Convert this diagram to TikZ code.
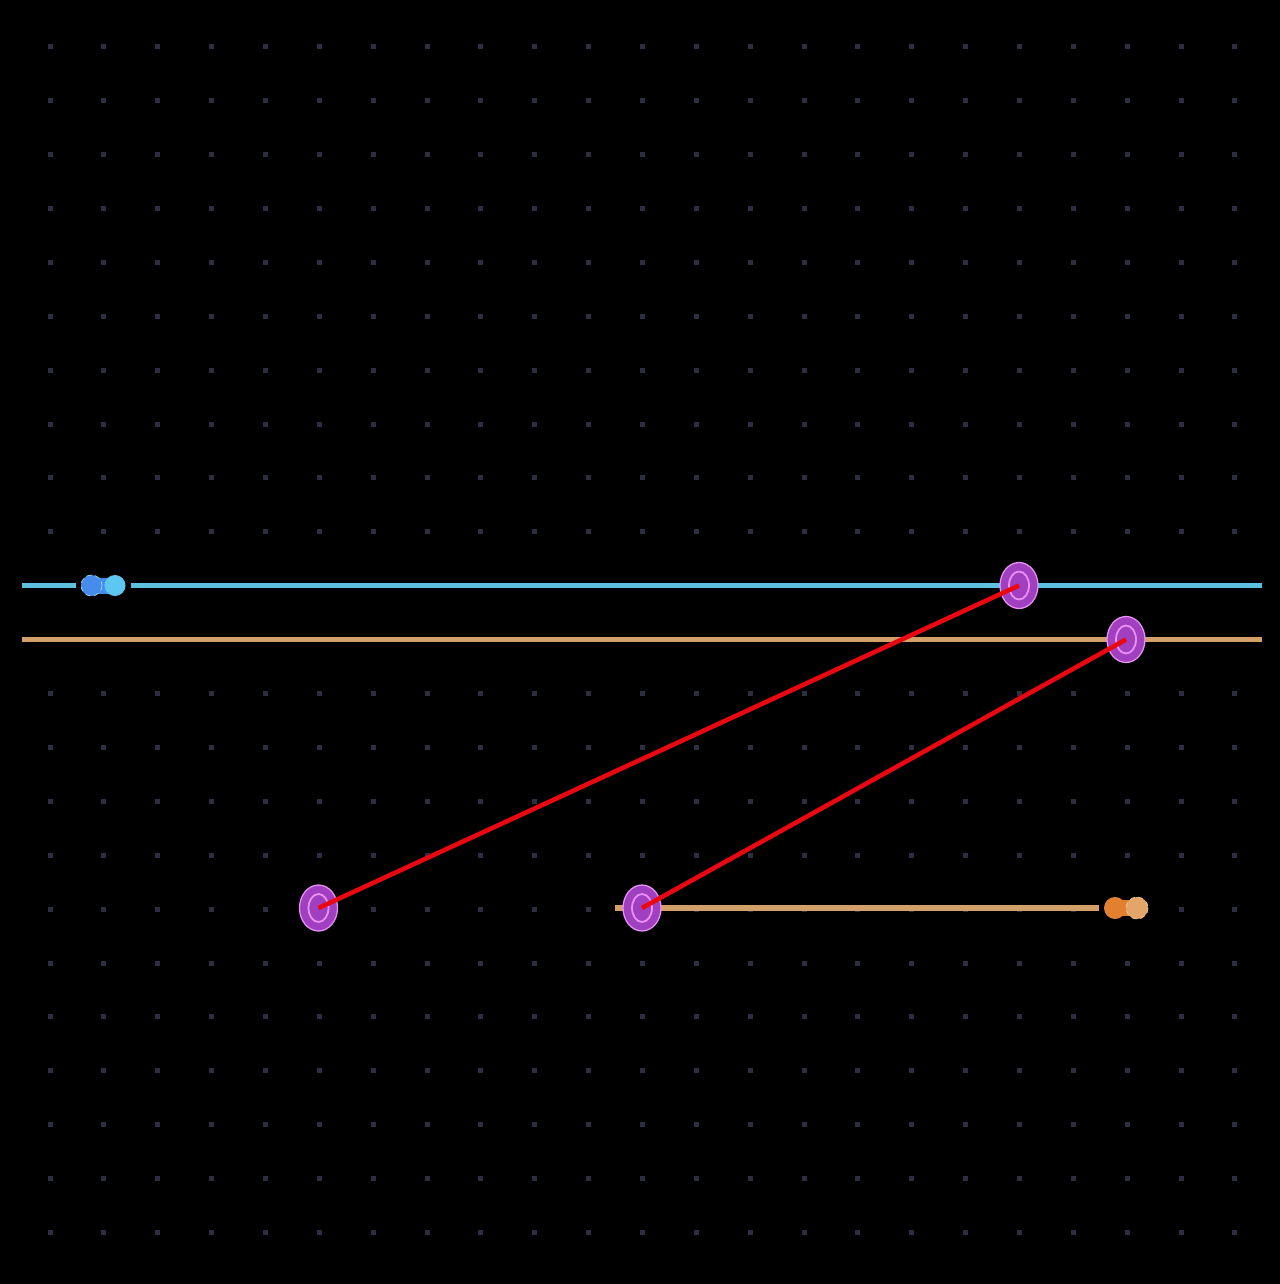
\documentclass[tikz,border=0pt]{standalone}
\usepackage{tikz}
\usetikzlibrary{calc}

\definecolor{bgdot}{RGB}{46,46,66}
\definecolor{cyanwire}{RGB}{92,192,222}
\definecolor{tanwire}{RGB}{212,160,106}
\definecolor{viafill}{RGB}{160,64,192}
\definecolor{viaedge}{RGB}{236,146,246}
\definecolor{redwire}{RGB}{234,8,16}
\definecolor{bluepadA}{RGB}{70,140,236}
\definecolor{bluepadB}{RGB}{92,200,242}
\definecolor{orangepadA}{RGB}{226,128,48}
\definecolor{orangepadB}{RGB}{228,166,104}

\begin{document}
\begin{tikzpicture}[x=0.02cm,y=-0.02cm]
    % Define the grid spacing and the wire width
    \def\dx{53.86}  % horizontal dot spacing
    \def\dy{53.9}   % vertical dot spacing
    \def\w{2.9pt}   % wire width
    \def\rx{19}     % via radii
    \def\ry{23}

    % Black background, fixes the page size
    \fill[black] (0,0) rectangle (1280,1284);
    \useasboundingbox (0,0) rectangle (1280,1284);

    % Grid dots
    \foreach \i in {0,...,22} {
        \foreach \j in {0,...,22} {
            \fill[bgdot] ({50+\dx*\i-2.5},{46.7+\dy*\j-2.5}) rectangle ++(5,5);
        }
    }

    % Coordinates of the vias and the pads
    \coordinate (V1) at (1019,585.5);
    \coordinate (V2) at (1126,639.5);
    \coordinate (V3) at (318.5,908);
    \coordinate (V4) at (642,908);
    \coordinate (PB) at (103,585.5);
    \coordinate (PO) at (1126,908);

    % Wire ends
    \coordinate (C0) at (22,585.5);
    \coordinate (C1) at (76,585.5);
    \coordinate (C2) at (131,585.5);
    \coordinate (C3) at (1262,585.5);
    \coordinate (T0) at (22,639.5);
    \coordinate (T1) at (1262,639.5);
    \coordinate (T2) at (615,908);
    \coordinate (T3) at (1099,908);

    % Draw the wires
    \draw[cyanwire,line width=\w] (C0) -- (C1);
    \draw[cyanwire,line width=\w] (C2) -- (C3);
    \draw[tanwire,line width=\w] (T0) -- (T1);
    \draw[tanwire,line width=\w] (T2) -- (T3);

    % Draw the pads
    \fill[bluepadA] ($(PB)+(-6,-8)$) rectangle ($(PB)+(6,8)$);
    \fill[bluepadA] ($(PB)+(-11.5,0)$) circle (10.5);
    \fill[bluepadB] ($(PB)+(12,0)$) circle (10.5);
    \draw[bluepadB!60!white,densely dashed,line width=0.4pt] ($(PB)+(-11.5,0)$) circle (10.5);
    \fill[orangepadA] ($(PO)+(-6,-8)$) rectangle ($(PO)+(6,8)$);
    \fill[orangepadA] ($(PO)+(-11,0)$) circle (11);
    \fill[orangepadB] ($(PO)+(11,0)$) circle (11);
    \draw[orangepadB!60!white,densely dashed,line width=0.4pt] ($(PO)+(11,0)$) circle (11);

    % Draw the vias
    \foreach \v in {V1,V2,V3,V4} {
        \fill[viafill] (\v) ellipse ({\rx} and {\ry});
        \draw[viaedge,line width=0.7pt] (\v) ellipse ({\rx} and {\ry});
        \draw[viaedge,line width=1pt] (\v) ellipse (10 and 14);
    }

    % Draw the red connections
    \draw[redwire,line width=2.6pt] (V3) -- (V1);
    \draw[redwire,line width=2.6pt] (V4) -- (V2);

\end{tikzpicture}
\end{document}
